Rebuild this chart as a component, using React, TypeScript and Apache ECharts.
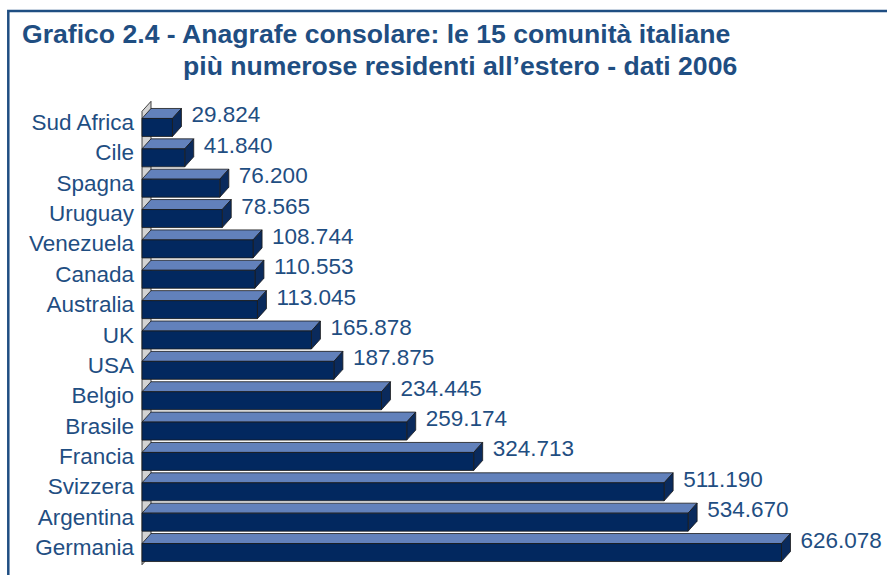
import React, { useEffect, useRef } from "react";
import * as echarts from "echarts";

const categories = [
  "Sud Africa", "Cile", "Spagna", "Uruguay", "Venezuela", "Canada", "Australia",
  "UK", "USA", "Belgio", "Brasile", "Francia", "Svizzera", "Argentina", "Germania",
];
const values = [
  29824, 41840, 76200, 78565, 108744, 110553, 113045,
  165878, 187875, 234445, 259174, 324713, 511190, 534670, 626078,
];
const titleLine1 = "Grafico 2.4 - Anagrafe consolare: le 15 comunità italiane";
const titleLine2 = "più numerose residenti all’estero - dati 2006";

const FONT = "'Liberation Sans', Arial, sans-serif";
const TEXT = "#1f4e82";
const FRONT = "#02285f";
const TOP = "#6281bb";
const SIDE = "#0a2a5c";
const EDGE = "#1a1a1a";
const WALL = "#d3d3d3";
const DX = 9;
const DY = 10;

function fmt(v: number): string {
  const th = Math.floor(v / 1000);
  const r = v % 1000;
  return th + "." + String(r).padStart(3, "0");
}

export default function App() {
  const ref = useRef<HTMLDivElement>(null);
  useEffect(() => {
    if (!ref.current) return;
    const chart = echarts.init(ref.current, null, { renderer: "svg" });
    const barData = values.map((v, i) => [v, i]);
    chart.setOption({
      animation: false,
      backgroundColor: "#ffffff",
      grid: { left: 142, right: 30, top: 107.3, bottom: 12.3, containLabel: false },
      xAxis: {
        type: "value",
        min: 0,
        max: 700000,
        show: false,
      },
      yAxis: {
        type: "category",
        inverse: true,
        data: categories,
        axisLine: { show: false },
        axisTick: { show: false },
        splitLine: { show: false },
        axisLabel: {
          fontSize: 22.5,
          fontFamily: FONT,
          color: TEXT,
          margin: 8,
        },
      },
      graphic: [
        {
          type: "rect",
          shape: { x: 8.3, y: 11, width: 1000, height: 1000 },
          style: { fill: "none", stroke: TEXT, lineWidth: 2.5 },
          silent: true,
        },
        {
          type: "text",
          x: 22,
          y: 33.5,
          style: {
            text: titleLine1,
            fontFamily: FONT,
            fontSize: 26.6,
            fontWeight: "bold",
            fill: TEXT,
            align: "left",
            verticalAlign: "middle",
          },
        },
        {
          type: "text",
          x: 183,
          y: 66,
          style: {
            text: titleLine2,
            fontFamily: FONT,
            fontSize: 26.6,
            fontWeight: "bold",
            fill: TEXT,
            align: "left",
            verticalAlign: "middle",
          },
        },
      ],
      series: [
        {
          type: "custom",
          data: [[0, 0]],
          encode: { x: 0, y: 1 },
          silent: true,
          renderItem: (params: any, api: any) => {
            const first = api.coord([0, 0]);
            const last = api.coord([0, categories.length - 1]);
            const band = api.size([0, 1])[1];
            const x0 = first[0];
            const yTop = first[1] - band / 2 + 4;
            const yBot = last[1] + band / 2 + 2;
            return {
              type: "polygon",
              shape: {
                points: [
                  [x0, yTop],
                  [x0 + DX, yTop - DY],
                  [x0 + DX, yBot - DY],
                  [x0, yBot],
                ],
              },
              style: { fill: WALL, stroke: EDGE, lineWidth: 0.8 },
            };
          },
        },
        {
          type: "custom",
          data: barData,
          encode: { x: 0, y: 1 },
          silent: true,
          renderItem: (params: any, api: any) => {
            const val = api.value(0);
            const idx = api.value(1);
            const s = api.coord([0, idx]);
            const e = api.coord([val, idx]);
            const x0 = s[0];
            const x1 = e[0];
            const yc = s[1];
            const fTop = yc - 4;
            const fBot = yc + 14;
            return {
              type: "group",
              children: [
                {
                  type: "polygon",
                  shape: {
                    points: [
                      [x0, fTop],
                      [x0 + DX, fTop - DY],
                      [x1 + DX, fTop - DY],
                      [x1, fTop],
                    ],
                  },
                  style: { fill: TOP, stroke: EDGE, lineWidth: 0.8 },
                },
                {
                  type: "polygon",
                  shape: {
                    points: [
                      [x1, fTop],
                      [x1 + DX, fTop - DY],
                      [x1 + DX, fBot - DY],
                      [x1, fBot],
                    ],
                  },
                  style: { fill: SIDE, stroke: EDGE, lineWidth: 0.8 },
                },
                {
                  type: "rect",
                  shape: { x: x0, y: fTop, width: x1 - x0, height: fBot - fTop },
                  style: { fill: FRONT, stroke: EDGE, lineWidth: 0.8 },
                },
                {
                  type: "text",
                  x: x1 + DX + 10,
                  y: yc - 7.5,
                  style: {
                    text: fmt(val),
                    fontFamily: FONT,
                    fontSize: 22.5,
                    fill: TEXT,
                    align: "left",
                    verticalAlign: "middle",
                  },
                },
              ],
            };
          },
        },
      ],
    });
    return () => chart.dispose();
  }, []);
  return (
    <div
      ref={ref}
      style={{ position: "fixed", left: 0, top: 0, width: 887, height: 575 }}
    />
  );
}
